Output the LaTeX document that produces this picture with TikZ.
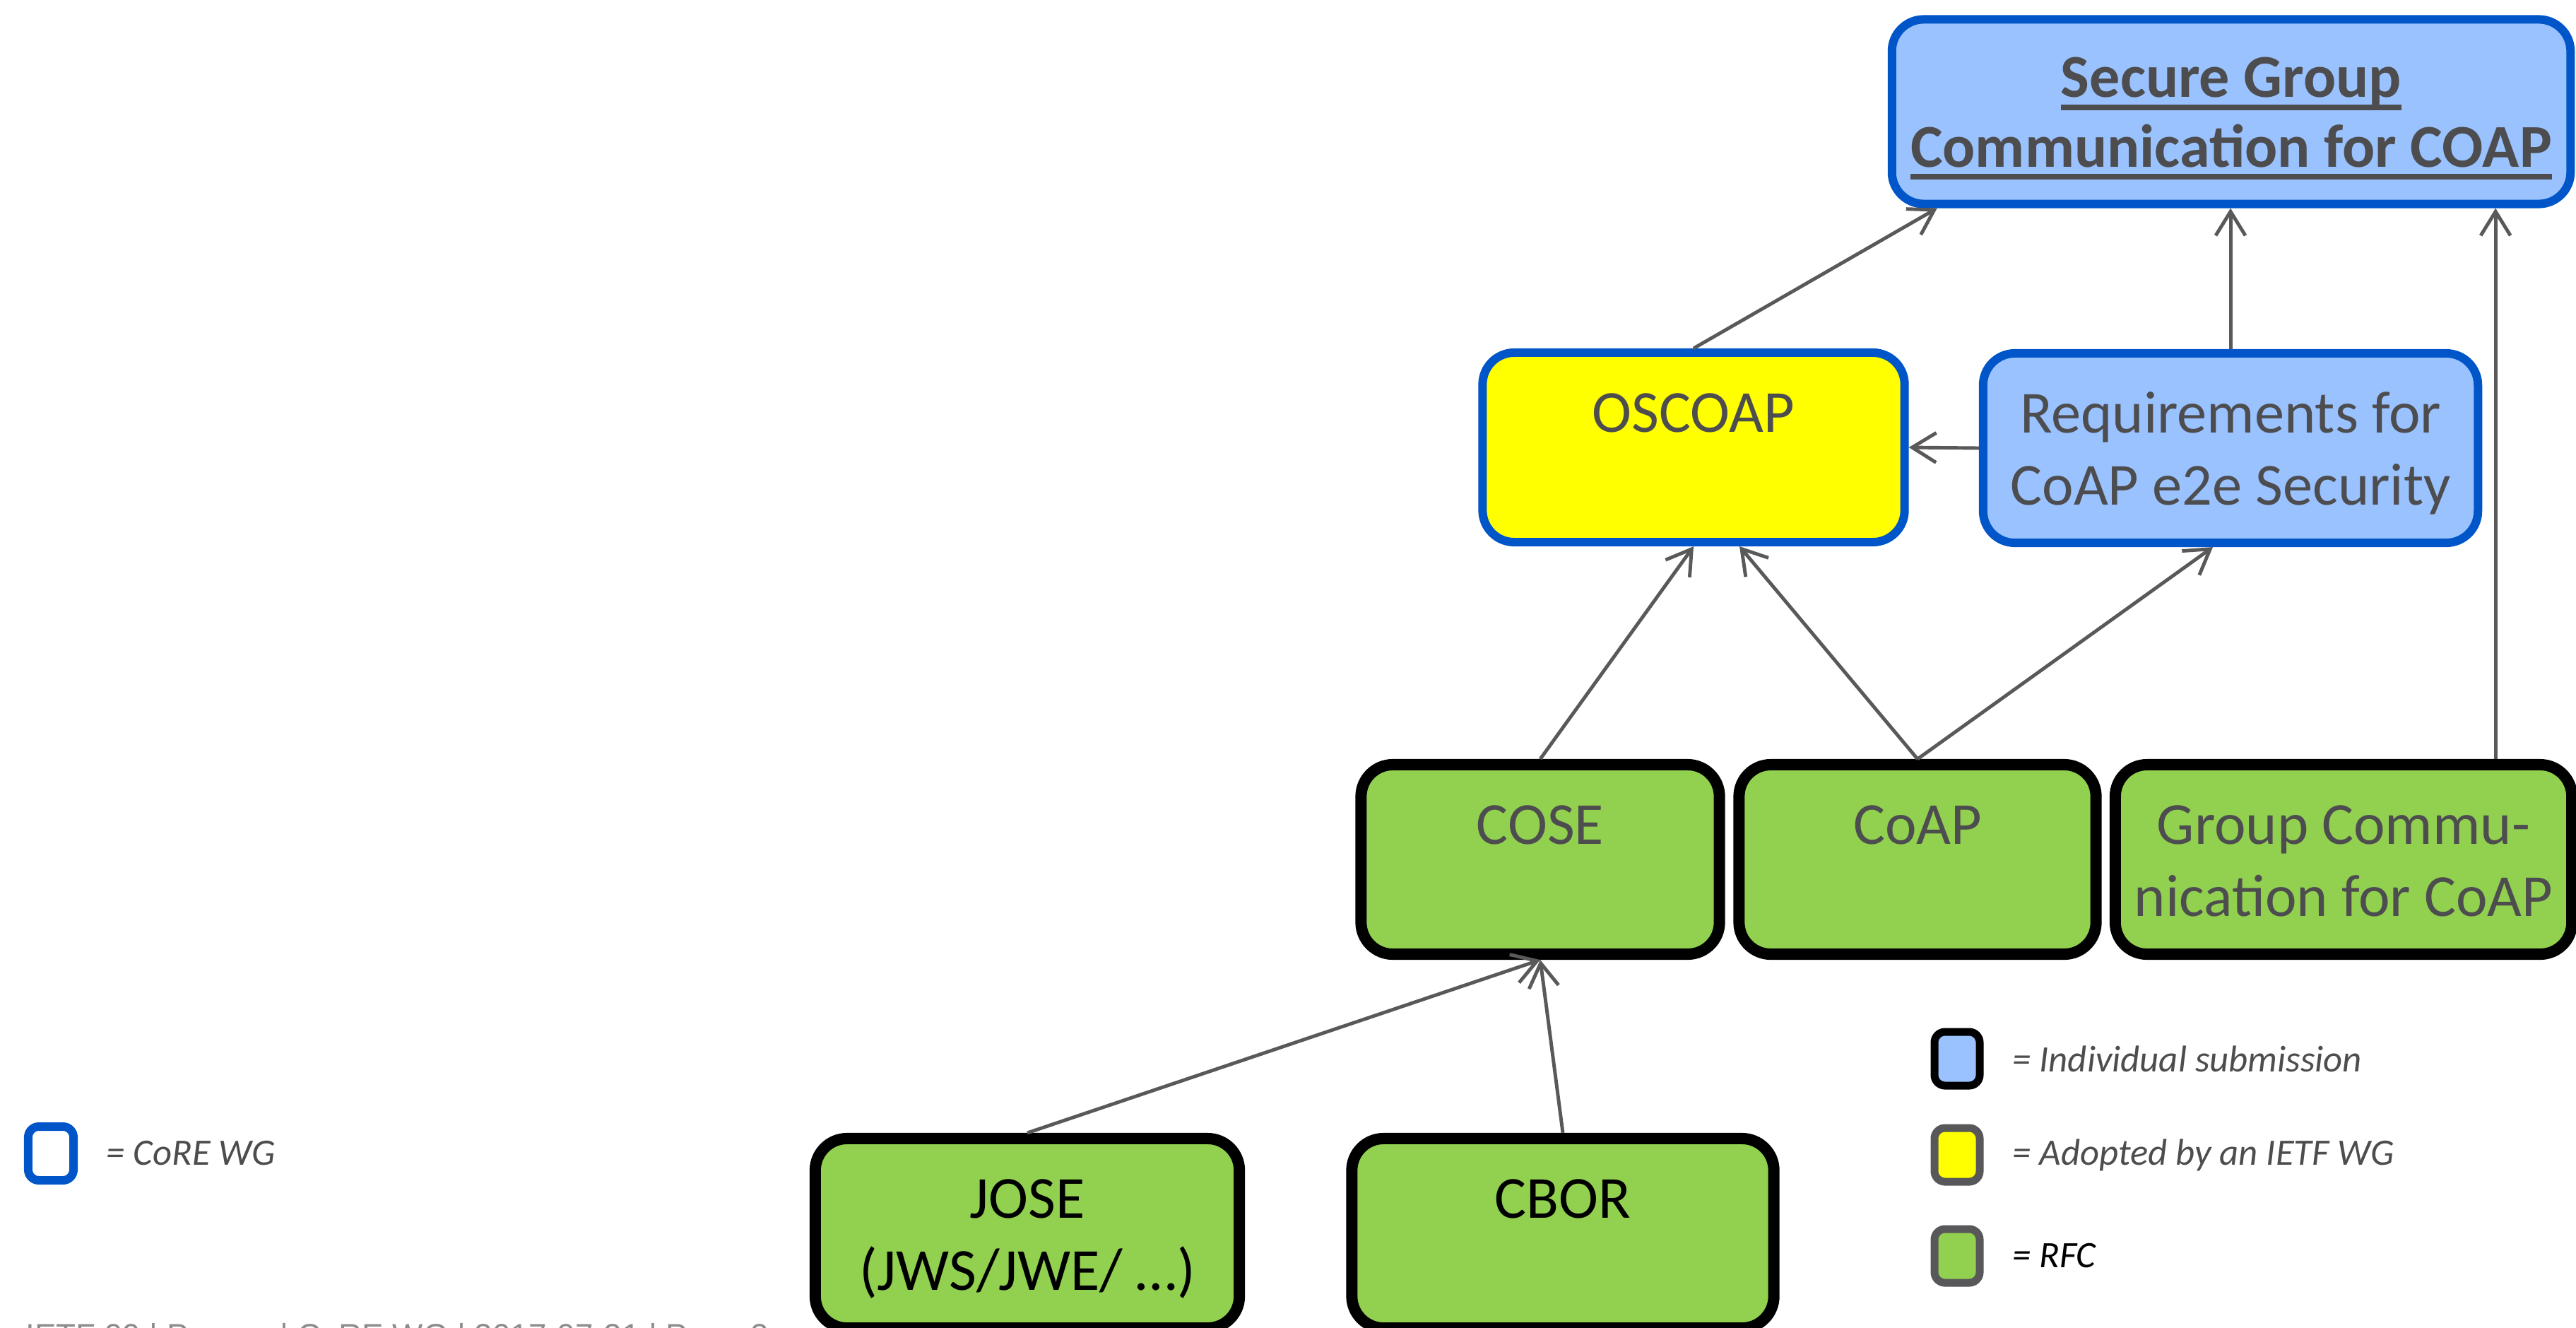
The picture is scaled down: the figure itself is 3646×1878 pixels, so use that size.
\documentclass[tikz,border=0pt]{standalone}
\usepackage{fontspec}
\setmainfont{Carlito}
\newfontfamily\footerfont{Liberation Sans}
\usepackage{xcolor}
\usetikzlibrary{arrows.meta,positioning}

\definecolor{coreblue}{HTML}{0055C8}
\definecolor{draftblue}{HTML}{99C2FF}
\definecolor{adoptyellow}{HTML}{FFFF00}
\definecolor{rfcgreen}{HTML}{92D050}
\definecolor{textgray}{HTML}{4D4D4F}
\definecolor{arrowgray}{HTML}{595959}
\definecolor{legendgray}{HTML}{58585A}
\definecolor{footgray}{HTML}{8C8C8C}

% thick underline for the title box
\newcommand{\ulbox}[1]{\setbox0=\hbox{#1}\rlap{\rule[-5.1pt]{\wd0}{2.3pt}}\box0}
% fixed first/last line so that every box keeps two line slots
\newcommand{\topstrut}{\rule{0pt}{25pt}}
\newcommand{\botstrut}{\rule[-8.5pt]{0pt}{8.5pt}}

\begin{document}
\begin{tikzpicture}[x=0.01cm, y=-0.01cm,
  doc/.style={draw, rounded corners=0.45cm, inner sep=0pt, align=center,
    minimum height=2.68cm, text=textgray,
    font=\fontsize{24}{29}\selectfont},
  coredoc/.style={doc, draw=coreblue, line width=0.12cm},
  rfcdoc/.style={doc, fill=rfcgreen, draw=black, line width=0.16cm},
  legbox/.style={draw, rounded corners=0.15cm, inner sep=0pt,
    minimum width=0.64cm, minimum height=0.76cm, line width=0.11cm},
  legtext/.style={inner sep=0pt, text=textgray,
    font=\itshape\fontsize{15}{18}\selectfont},
  dep/.style={-{Straight Barb[length=0.34cm, width=0.42cm]},
    arrowgray, line width=1.4pt}]
\useasboundingbox (0,0) rectangle (3646,1878);

% Drafts and RFCs
\node[coredoc, fill=draftblue, minimum width=9.60cm, minimum height=2.61cm,
  font=\bfseries\fontsize{24.5}{28}\selectfont] (sgc) at (3158,158)
  {\topstrut\ulbox{Secure Group}\\\ulbox{Communication for COAP}\botstrut};
\node[coredoc, fill=adoptyellow, minimum width=5.97cm] (oscoap) at (2397,633)
  {\topstrut OSCOAP\\\botstrut};
\node[coredoc, fill=draftblue, minimum width=7.00cm] (req) at (3157,634)
  {\topstrut Requirements for\\CoAP e2e Security\botstrut};
\node[rfcdoc, minimum width=5.07cm] (cose) at (2180,1216) {\topstrut COSE\\\botstrut};
\node[rfcdoc, minimum width=5.05cm] (coap) at (2714,1216) {\topstrut CoAP\\\botstrut};
\node[rfcdoc, minimum width=6.46cm] (group) at (3317,1216)
  {\topstrut Group Commu-\\nication for CoAP\botstrut};
\node[rfcdoc, minimum width=6.00cm, text=black] (jose) at (1454,1745)
  {\topstrut JOSE\\(JWS/JWE/ \dots)\botstrut};
\node[rfcdoc, minimum width=5.97cm, text=black] (cbor) at (2212,1745)
  {\topstrut CBOR\\\botstrut};

% Dependencies
\draw[dep] (oscoap.north) -- ([xshift=0.70cm]sgc.south west);
\draw[dep] (req.north) -- (req.north |- sgc.south);
\draw[dep] ([xshift=2.15cm]group.north) -- ([xshift=2.15cm]group.north |- sgc.south);
\draw[dep] (req.west) -- (oscoap.east);
\draw[dep] (cose.north) -- (oscoap.south);
\draw[dep] (coap.north) -- ([xshift=0.65cm]oscoap.south);
\draw[dep] (coap.north) -- ([xshift=-0.25cm]req.south);
\draw[dep] (jose.north) -- (cose.south);
\draw[dep] (cbor.north) -- (cose.south);

% Legend
\node[legbox, draw=coreblue, fill=white, line width=0.12cm] (lgcore) at (72,1632) {};
\node[legtext, right=0.4cm of lgcore] (lgcoretext) {= CoRE WG};
\node[legbox, draw=black, fill=draftblue] (lgind) at (2770,1498) {};
\node[legtext, right=0.4cm of lgind] (lgindtext) {= Individual submission};
\node[legbox, draw=legendgray, fill=adoptyellow] (lgadopt) at (2770,1634) {};
\node[legtext, right=0.4cm of lgadopt] (lgadopttext) {= Adopted by an IETF WG};
\node[legbox, draw=legendgray, fill=rfcgreen] (lgrfc) at (2770,1777) {};
\node[legtext, text=black, right=0.4cm of lgrfc] (lgrfctext) {= RFC};

% Footer (cut by the page edge)
\node[anchor=base west, inner sep=0pt, text=footgray,
  font=\footerfont\fontsize{13}{15}\selectfont] (footer) at (36,1905)
  {IETF 99 | Prague | CoRE WG | 2017-07-21 | Page 2};
\end{tikzpicture}
\end{document}
